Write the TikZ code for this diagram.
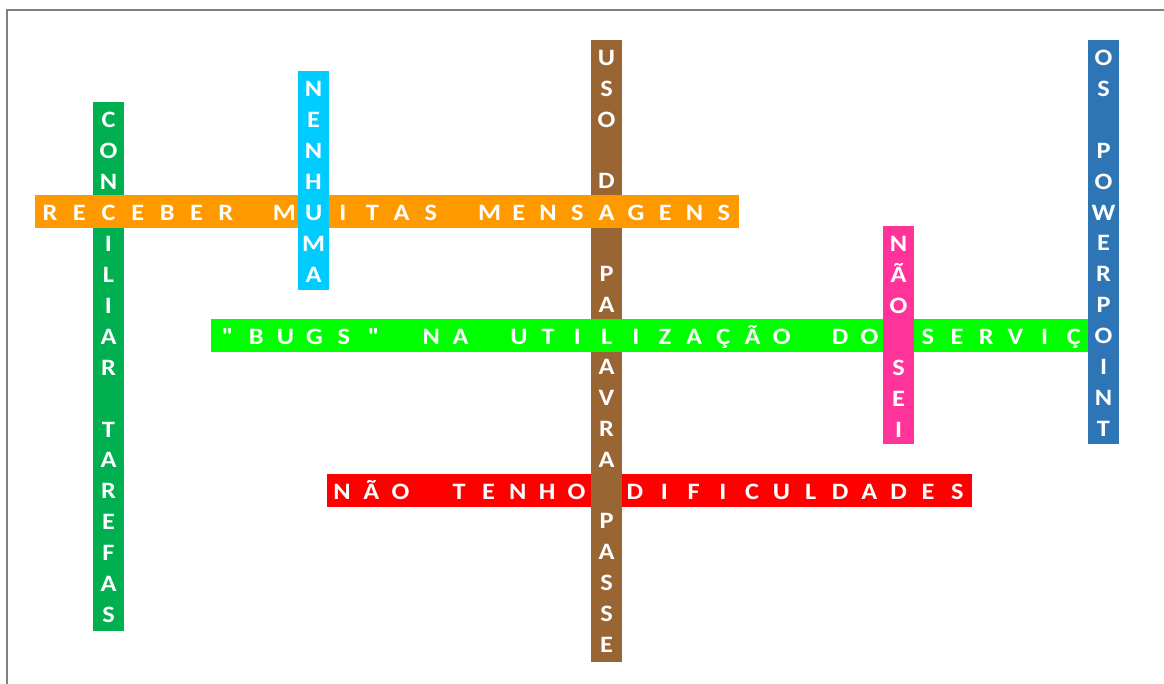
\documentclass[tikz,border=0pt]{standalone}
\usepackage{fontspec}
\setmainfont{Carlito}
\newfontfamily\lettfont{Carlito}[FakeStretch=1.12]
\newcommand\dquote{\XeTeXglyph\XeTeXcharglyph"22\relax}
\definecolor{cOrange}{RGB}{255,153,0}
\definecolor{cCyan}{RGB}{0,204,255}
\definecolor{cGreenD}{RGB}{0,176,80}
\definecolor{cBrown}{RGB}{153,102,51}
\definecolor{cLime}{RGB}{0,255,0}
\definecolor{cPink}{RGB}{255,51,153}
\definecolor{cBlue}{RGB}{46,117,182}
\definecolor{cRed}{RGB}{255,0,0}
\definecolor{cFrame}{RGB}{128,128,128}
\begin{document}
\begin{tikzpicture}[x=1pt,y=-1pt,
  bar/.style={rectangle, inner sep=0pt, outer sep=0pt, draw=none},
  lt/.style={anchor=base, inner sep=0pt, outer sep=0pt, text=white,
     font=\lettfont\fontsize{23.5}{23.5}\selectfont\bfseries}]
\useasboundingbox (0,0) rectangle (1164,684);
\coordinate (fa) at (7,684);
\coordinate (fb) at (7,10);
\coordinate (fc) at (1164,10);
\draw[cFrame, line width=1.6pt] (fa) -- (fb) -- (fc);
% bars (drawing order gives the overlaps)
\node[bar, fill=cRed,    minimum width=645pt, minimum height=33pt]  (redbar)    at (649.5,490.5) {};
\node[bar, fill=cGreenD, minimum width=31pt,  minimum height=529pt] (greencol)  at (108.5,366.5) {};
\node[bar, fill=cBrown,  minimum width=31pt,  minimum height=622pt] (browncol)  at (606.5,351) {};
\node[bar, fill=cOrange, minimum width=704pt, minimum height=33pt]  (orangebar) at (387,211.5) {};
\node[bar, fill=cCyan,   minimum width=31pt,  minimum height=219pt] (cyancol)   at (313.5,180.5) {};
\node[bar, fill=cLime,   minimum width=879pt, minimum height=33pt]  (limebar)   at (650.5,335.5) {};
\node[bar, fill=cPink,   minimum width=31pt,  minimum height=218pt] (pinkcol)   at (898.5,335) {};
\node[bar, fill=cBlue,   minimum width=31pt,  minimum height=404pt] (bluecol)   at (1103.5,242) {};
% row letters
\foreach \lett [count=\i from 0] in {R,E,C,E,B,E,R,{},M,U,I,T,A,S,{},M,E,N,S,A,G,E,N,S}
  \node[lt] (or\i) at ({50+\i*29.3},220.6) {\lett};
\foreach \lett [count=\i from 0] in {\dquote,B,U,G,S,\dquote,{},N,A,{},U,T,I,L,I,Z,A,Ç,Ã,O,{},D,O,{},S,E,R,V,I,Ç}
  \node[lt] (lr\i) at ({227+\i*29.2},344.7) {\lett};
\foreach \lett [count=\i from 0] in {N,Ã,O,{},T,E,N,H,O,{},D,I,F,I,C,U,L,D,A,D,E,S}
  \node[lt] (rr\i) at ({342+\i*29.3},499.2) {\lett};
% column letters (crossing letters come from the rows)
\foreach \lett [count=\i from 0] in {C,O,N,{},I,L,I,A,R,{},T,A,R,E,F,A,S}
  \node[lt] (gc\i) at (108.5,{128+\i*30.9}) {\lett};
\foreach \lett [count=\i from 0] in {N,E,N,H,{},M,A}
  \node[lt] (cc\i) at (313.5,{96.9+\i*30.9}) {\lett};
\foreach \lett [count=\i from 0] in {U,S,O,{},D,{},{},P,A,{},A,V,R,A,{},P,A,S,S,E}
  \node[lt] (bc\i) at (606.5,{65.4+\i*30.9}) {\lett};
\foreach \lett [count=\i from 0] in {N,Ã,O,{},S,E,I}
  \node[lt] (pc\i) at (898.5,{251.6+\i*30.9}) {\lett};
\foreach \lett [count=\i from 0] in {O,S,{},P,O,W,E,R,P,O,I,N,T}
  \node[lt] (uc\i) at (1103.5,{65.6+\i*30.9}) {\lett};
\end{tikzpicture}
\end{document}
